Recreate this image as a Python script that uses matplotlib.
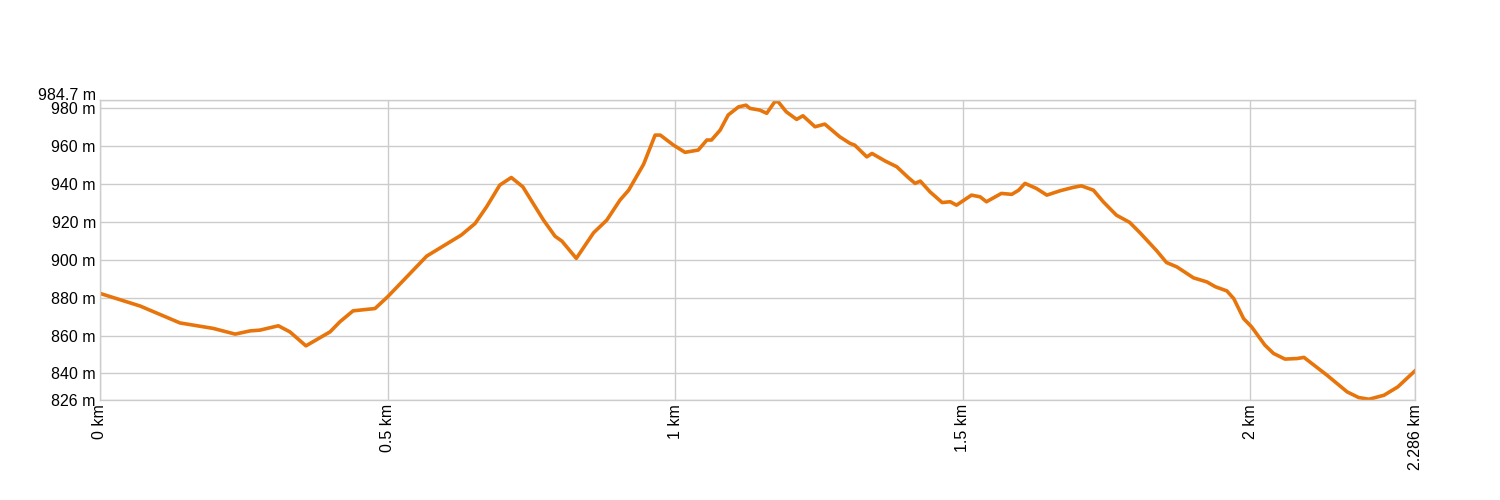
import matplotlib.pyplot as plt

# distance (km) and elevation (m) read from the profile
dist_km = [0.000, 0.070, 0.139, 0.197, 0.235, 0.261, 0.278, 0.310, 0.330, 0.358,
           0.400, 0.417, 0.440, 0.478, 0.500, 0.568, 0.628, 0.652, 0.672, 0.695,
           0.715, 0.735, 0.771, 0.791, 0.803, 0.828, 0.858, 0.881, 0.904, 0.919,
           0.945, 0.965, 0.974, 0.997, 1.017, 1.040, 1.055, 1.063, 1.078, 1.092,
           1.110, 1.123, 1.130, 1.147, 1.159, 1.173, 1.179, 1.193, 1.211, 1.222,
           1.243, 1.260, 1.286, 1.304, 1.312, 1.333, 1.342, 1.365, 1.385, 1.405,
           1.417, 1.426, 1.443, 1.464, 1.478, 1.489, 1.515, 1.530, 1.541, 1.567,
           1.585, 1.597, 1.608, 1.628, 1.646, 1.669, 1.692, 1.706, 1.727, 1.744,
           1.767, 1.790, 1.808, 1.837, 1.854, 1.872, 1.901, 1.924, 1.939, 1.959,
           1.971, 1.988, 2.002, 2.025, 2.040, 2.060, 2.081, 2.093, 2.133, 2.168,
           2.188, 2.206, 2.232, 2.256, 2.286]
elev_m = [882.3, 875.6, 866.7, 863.8, 860.8, 862.5, 862.9, 865.2, 862.0, 854.6,
          862.0, 867.3, 873.1, 874.3, 880.5, 902.0, 913.1, 919.2, 928.0, 939.5,
          943.5, 938.6, 921.0, 912.5, 909.9, 900.8, 914.3, 921.0, 931.6, 936.8,
          950.5, 965.9, 965.9, 960.6, 956.8, 958.0, 963.3, 963.3, 968.5, 976.5,
          980.8, 981.7, 980.0, 979.1, 977.4, 983.5, 983.5, 978.2, 974.2, 976.1,
          970.3, 971.7, 965.0, 961.5, 960.6, 954.4, 956.2, 952.2, 949.2, 943.5,
          940.4, 941.6, 935.9, 930.3, 930.7, 928.9, 934.2, 933.3, 930.7, 935.1,
          934.6, 936.8, 940.4, 937.7, 934.2, 936.5, 938.3, 939.1, 936.8, 930.7,
          923.6, 919.8, 914.3, 904.8, 898.6, 896.3, 890.5, 888.4, 885.8, 883.6,
          879.5, 869.0, 864.6, 855.0, 850.6, 847.6, 847.9, 848.5, 839.1, 830.3,
          827.3, 826.4, 828.5, 832.9, 841.4]

x_ticks = [0, 0.5, 1, 1.5, 2, 2.286]
x_labels = ['0 km', '0.5 km', '1 km', '1.5 km', '2 km', '2.286 km']
y_ticks = [826, 840, 860, 880, 900, 920, 940, 960, 980, 984.7]
y_labels = ['826 m', '840 m', '860 m', '880 m', '900 m', '920 m', '940 m',
            '960 m', '980 m', '984.7 m']

plt.rcParams['font.family'] = ['Liberation Sans', 'DejaVu Sans']

fig = plt.figure(figsize=(15, 5), dpi=100)
ax = fig.add_axes([100 / 1500, 0.2, 1315 / 1500, 0.601])

ax.plot(dist_km, elev_m, color='#e8750b', linewidth=2.6, solid_joinstyle='round')

ax.set_xlim(0, 2.286)
ax.set_ylim(826, 984.7)

ax.set_xticks(x_ticks)
ax.set_xticklabels(x_labels, rotation=90, va='top', ha='center')
ax.set_yticks(y_ticks)
ax.set_yticklabels(y_labels)
# top label sits on its line so it does not run into "980 m"
ax.get_yticklabels()[-1].set_va('baseline')

ax.tick_params(length=0, labelsize=11.5, colors='black', pad=3)
ax.grid(True, color='#cccccc', linewidth=1)
ax.set_axisbelow(True)
for s in ax.spines.values():
    s.set_color('#cccccc')
    s.set_linewidth(1)

fig.savefig('out.png', dpi=100)
